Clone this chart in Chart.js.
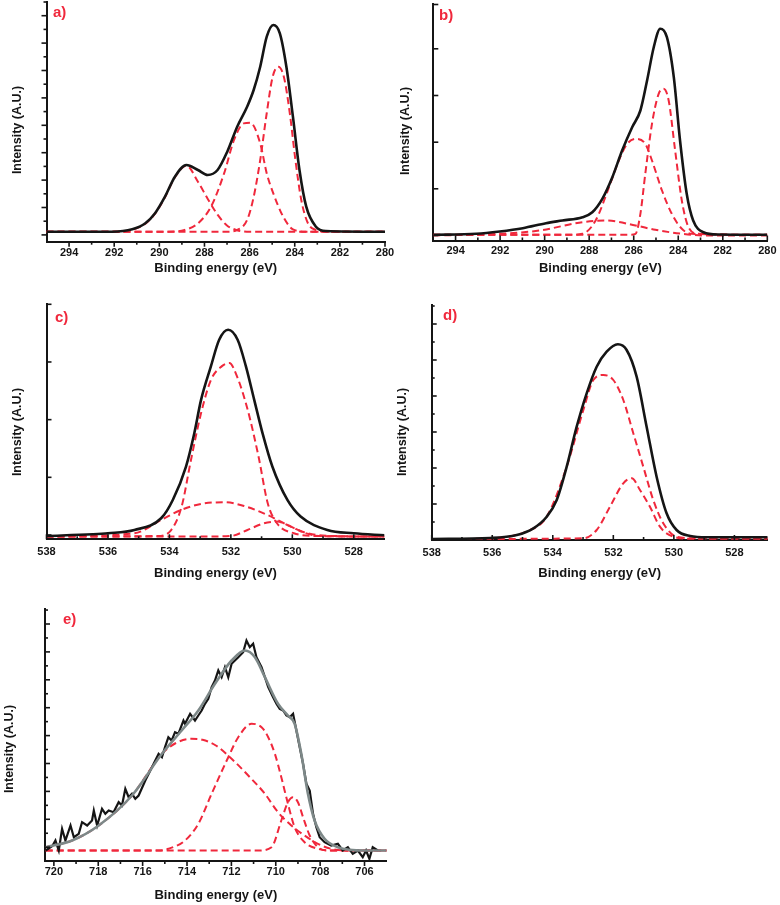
<!DOCTYPE html>
<html lang="en">
<head>
  <meta charset="UTF-8">
  <title>XPS spectra</title>
  <script src="https://cdn.jsdelivr.net/npm/chart.js"></script>
  <style>
    body { margin: 0; background: #fff; }
    #fig { position: relative; width: 780px; height: 905px; overflow: hidden; }
    #fig canvas { position: absolute; }
    .tag { position: absolute; font: bold 15px 'Liberation Sans', Arial, sans-serif; color: #f0283c; line-height: 1; }
    .ytitle { position: absolute; font: bold 12.5px 'Liberation Sans', Arial, sans-serif; color: #151515;
              white-space: nowrap; transform: translate(-50%, -50%) rotate(-90deg); }
  </style>
</head>
<body>
<div id="fig">
  <canvas id="ca" width="400" height="280" style="left:0;top:0"></canvas>
  <canvas id="cb" width="390" height="280" style="left:390px;top:0"></canvas>
  <canvas id="cc" width="390" height="290" style="left:0;top:295px"></canvas>
  <canvas id="cd" width="390" height="290" style="left:390px;top:295px"></canvas>
  <canvas id="ce" width="390" height="305" style="left:0;top:600px"></canvas>

  <div class="tag" style="left:53px;top:4px">a)</div>
  <div class="tag" style="left:439px;top:7px">b)</div>
  <div class="tag" style="left:55px;top:309px">c)</div>
  <div class="tag" style="left:443px;top:307px">d)</div>
  <div class="tag" style="left:63px;top:611px">e)</div>

  <div class="ytitle" style="left:17px;top:130px">Intensity (A.U.)</div>
  <div class="ytitle" style="left:405px;top:131px">Intensity (A.U.)</div>
  <div class="ytitle" style="left:17px;top:432px">Intensity (A.U.)</div>
  <div class="ytitle" style="left:402px;top:432px">Intensity (A.U.)</div>
  <div class="ytitle" style="left:9px;top:749px">Intensity (A.U.)</div>
</div>

<script>
  // ---- a) C 1s ----
  const aTotal = [[295,10],[292.1,10],[291.2,12.4],[290.62,18.4],[290.19,28.4],[289.75,45],[289.31,65],[288.8,76.7],
    [288.29,71.7],[287.86,66.7],[287.42,71.7],[286.99,90],[286.55,115],[286.11,135],[285.82,151.7],[285.53,175],
    [285.24,205],[284.95,216.7],[284.66,208.4],[284.37,175],[284.08,125],[283.79,71.7],[283.49,35],[283.06,15],
    [282.62,10.7],[280,10]];
  const aPeak1 = [[295,10],[287.0,10],[286.55,11.7],[286.11,21.7],[285.82,44.7],[285.53,81.7],[285.24,128.7],
    [284.98,164.7],[284.73,175],[284.48,164.7],[284.22,128.7],[283.97,81.7],[283.71,41.7],[283.42,18.7],
    [283.06,11.7],[282.62,10],[280,10]];
  const aPeak2 = [[295,10],[289.6,10],[288.88,11.7],[288.29,18.3],[287.71,35],[287.13,68.3],[286.69,101.7],
    [286.26,118.3],[285.97,119],[285.53,98.3],[285.24,68.3],[284.95,48.3],[284.51,25],[284.08,12.3],[283.49,10],[280,10]];
  const aPeak3 = [[295,10],[291.8,10],[291.2,12],[290.62,18],[290.19,28],[289.75,44.5],[289.31,64.5],[288.8,76],
    [288.29,60],[287.86,43],[287.42,27],[286.99,16],[286.55,11.5],[286.0,10],[280,10]];

  // ---- b) C 1s ----
  const bTotal = [[295,5.7],[293.07,6.7],[292.02,9],[290.98,12.3],[289.94,17.3],[289.2,20],[288.3,23.3],[287.86,28.3],
    [287.41,41.7],[286.96,63.3],[286.52,90],[286.07,113.3],[285.7,130],[285.4,160],[285.1,193.3],[284.81,211.7],
    [284.51,203.3],[284.2,163.3],[283.92,100],[283.62,46.7],[283.33,20],[282.87,8.3],[282.2,6],[280,5.7]];
  const bPeak1 = [[295,5.7],[286.2,5.7],[285.92,6.7],[285.7,26.7],[285.48,66.7],[285.18,116.7],[284.88,146.7],
    [284.66,151.7],[284.43,140],[284.14,90],[283.84,40],[283.54,13.3],[283.1,6.7],[280,5.7]];
  const bPeak2 = [[295,5.7],[288.9,5.7],[288.3,6.7],[287.71,20],[287.11,53.3],[286.67,80],[286.29,96.7],[285.92,101.7],
    [285.48,96.7],[285.18,80],[284.73,50],[284.29,26.7],[283.84,11.7],[283.39,6.7],[280,5.7]];
  const bPeak3 = [[295,5],[292.02,6.7],[290.24,10],[288.3,18.3],[287.26,20],[285.92,15],[285.03,10.7],[283.84,6.7],
    [282.8,5],[280,5]];

  // ---- c) O 1s ----
  const cTotal = [[538,3.3],[536.5,5],[536,6],[535.14,9.3],[534.27,21],[533.89,39.3],[533.46,72.7],[533.19,106],
    [532.97,139.3],[532.65,172.7],[532.38,199.3],[532.09,209.3],[531.78,199.3],[531.51,172.7],[531.24,139.3],
    [530.97,106],[530.65,72.7],[530.16,39.3],[529.73,22.7],[528.86,9.3],[528,6],[527,4]];
  const cPeak1 = [[538,2.7],[534.4,3.3],[533.95,9],[533.6,33],[533.3,79],[532.97,126],[532.65,159],[532.3,172.7],
    [532.05,176],[531.8,162.7],[531.45,129],[531.1,82.7],[530.8,36],[530.5,16],[529.95,6],[529.2,3.3],[527,2.7]];
  const cPeak2 = [[538,2.7],[535.14,6],[534.27,19.3],[533.62,29.3],[532.97,35.3],[532.22,37],[531.57,33.3],
    [530.81,24.3],[530.16,14.3],[529.51,6],[528.65,3.3],[527,2.7]];
  const cPeak3 = [[538,2.7],[532.97,2.7],[532.0,3.3],[531.46,9.3],[530.92,16],[530.49,17.7],[530.05,12.7],
    [529.62,6.7],[529.08,3.3],[527,2.7]];

  // ---- d) O 1s ----
  const dTotal = [[538,1],[536.07,2],[535.19,5],[534.64,11.7],[534.2,23.3],[533.87,40],[533.54,73.3],[533.21,113.3],
    [532.88,146.7],[532.55,173.3],[532.22,188.3],[531.85,195.7],[531.56,190],[531.23,163.3],[530.9,113.3],
    [530.57,63.3],[530.24,26.7],[529.91,10],[529.46,4],[528.91,2.7],[526.9,2.7]];
  const dPeak1 = [[538,0.7],[536.07,1.7],[534.75,10],[534.2,23.3],[533.54,73.3],[532.99,130],[532.66,160],
    [532.33,165],[532.0,160],[531.67,140],[531.34,106.7],[531.01,73.3],[530.68,40],[530.35,16.7],[529.91,3.3],
    [529.24,1.7],[526.9,1.7]];
  const dPeak2 = [[538,1],[532.99,1.7],[532.55,10],[532.11,33.3],[531.67,56.7],[531.39,61.7],[531.12,50],
    [530.79,33.3],[530.46,13.3],[530.02,3.3],[529.46,1.3],[526.9,1.3]];

  // ---- e) Fe 2p3/2 ----
  const eData = [[720.37,10.5],[720.07,15],[719.93,20.5],[719.78,10.5],[719.63,32.2],[719.48,20.5],[719.25,35.5],
    [719.10,23.8],[718.88,27.2],[718.73,38.8],[718.50,35.5],[718.28,40.5],[718.20,50.5],[718.05,35.5],[717.83,52.2],
    [717.68,47.2],[717.53,50.5],[717.31,48.8],[717.08,58.8],[716.93,55.5],[716.78,72.2],[716.63,63.8],[716.48,67.2],
    [716.33,62.2],[716.18,65.5],[715.88,80.5],[715.58,93.8],[715.43,100.5],[715.28,107.2],[715.13,103.8],
    [714.99,113.8],[714.84,123.8],[714.69,120.5],[714.54,128.8],[714.39,127.2],[714.16,140.5],[714.09,137.2],
    [713.86,147.2],[713.64,140.5],[713.49,145.5],[713.34,150.5],[713.19,157.2],[713.04,162.2],[712.89,173.8],
    [712.74,180.5],[712.59,190.5],[712.44,183.8],[712.29,193.8],[712.14,183.8],[711.99,197.2],[711.84,200.5],
    [711.69,203.8],[711.47,208.8],[711.32,220.5],[711.17,213.8],[711.02,217.2],[710.87,203.8],[710.64,193.8],
    [710.49,183.8],[710.34,173.8],[710.12,163.8],[709.97,157.2],[709.82,152.2],[709.67,150.5],[709.52,145.5],
    [709.37,143.8],[709.22,147.2],[709.07,130.5],[708.92,113.8],[708.77,97.2],[708.62,77.2],[708.47,70.5],
    [708.32,47.2],[708.17,33.8],[708.02,23.8],[707.80,18.8],[707.50,15.5],[707.20,17.2],[706.98,10.5],
    [706.75,13.8],[706.53,7.2],[706.30,10.5],[706.08,3.8],[705.93,10.5],[705.78,2.2],[705.63,13.8],[705.40,10.5]];
  const eFit = [[720.37,13.8],[719.18,20.5],[717.98,35.5],[716.48,65.5],[715.13,107.2],[714.24,130.5],[713.49,150.5],
    [712.74,177.2],[711.99,200.5],[711.39,210.5],[710.94,203.8],[710.49,183.8],[709.9,157.2],[709.45,145.5],
    [709.15,137.2],[708.85,107.2],[708.55,67.2],[708.25,40.5],[707.8,22.2],[707.2,13.8],[706.0,10.5],[705.0,10.5]];
  const ePeak1 = [[720.37,13.8],[719.18,20.5],[717.98,35.5],[716.48,65.5],[715.13,107.2],[714.5,118],[713.8,122.2],
    [713.3,121.2],[712.7,115.5],[711.99,102.2],[711.24,85.5],[710.49,67.2],[709.9,48.8],[709.3,35.5],[708.7,25.5],
    [708.1,17.2],[707.5,12.2],[706.6,10.5],[705.0,10.5]];
  const ePeak2 = [[720.37,10.5],[715.3,10.5],[714.84,12.2],[714.09,20.5],[713.49,37.2],[712.89,67.2],[712.14,103.8],
    [711.69,123.8],[711.09,137.2],[710.64,133.8],[710.34,123.8],[710.04,107.2],[709.75,83.8],[709.45,57.2],
    [709.15,33.8],[708.7,18.8],[708.1,12.2],[707.5,10.5],[705.0,10.5]];
  const ePeak3 = [[720.37,10.5],[710.8,10.5],[710.19,13.8],[709.75,40.5],[709.45,58.8],[709.22,63.8],[709.0,58.8],
    [708.77,43.8],[708.47,25.5],[708.1,13.8],[707.65,10.5],[705.0,10.5]];

  // tick values
  const cLabels = [294, 292, 290, 288, 286, 284, 282, 280];
  const cMinor = [293, 291, 289, 287, 285, 283, 281];
  const oLabels = [538, 536, 534, 532, 530, 528];
  const oMinor = [537, 535, 533, 531, 529];
  const feLabels = [720, 718, 716, 714, 712, 710, 708, 706];
  const feMinor = [719, 717, 715, 713, 711, 709, 707];
  const aYLong = [6.8, 34.2, 61.6, 89, 116.4, 143.8, 171.2, 198.6, 226];
  const aYShort = [20.5, 47.9, 75.3, 102.7, 130.1, 157.5, 184.9, 212.3, 239.7];
  const bYTicks = [5, 51.7, 98.3, 145, 191.7, 236];
  const cYTicks = [4.3, 61.9, 119.5, 177.1, 234.7];
  const dYLong = [0, 36, 72, 108, 144, 180, 216];
  const dYShort = [18, 54, 90, 126, 162, 198, 234];
  const eYLong = [13.8, 41.7, 69.6, 97.5, 125.4, 153.3, 181.2, 209.1, 237];
  const eYShort = [27.75, 55.65, 83.55, 111.45, 139.35, 167.25, 195.15, 223.05, 250.95];

  const INK = '#151515', RED = '#f0283c', GREY = '#7d8888';
  const FONT = "'Liberation Sans', Arial, sans-serif";

  function line(pts, color, width, dash) {
    return {
      data: pts.map(([x, y]) => ({ x, y })),
      showLine: true, pointRadius: 0, borderColor: color, borderWidth: width,
      borderDash: dash || [], cubicInterpolationMode: 'monotone', fill: false
    };
  }
  const dashed = pts => line(pts, RED, 2, [7, 4]);

  // short tick marks drawn through the chart's own scales (len > 0: outward, < 0: inward)
  function tickMarks(marks) {
    return {
      id: 'tickMarks',
      afterDraw(chart) {
        const { ctx, scales: { x, y } } = chart;
        ctx.save();
        ctx.strokeStyle = INK;
        ctx.lineWidth = 1.6;
        (marks.x || []).forEach(([vals, len]) => vals.forEach(v => {
          const px = x.getPixelForValue(v);
          ctx.beginPath(); ctx.moveTo(px, x.top); ctx.lineTo(px, x.top + len); ctx.stroke();
        }));
        (marks.y || []).forEach(([vals, len]) => vals.forEach(v => {
          const py = y.getPixelForValue(v);
          ctx.beginPath(); ctx.moveTo(y.right, py); ctx.lineTo(y.right - len, py); ctx.stroke();
        }));
        ctx.restore();
      }
    };
  }

  function panel(id, p) {
    return new Chart(document.getElementById(id), {
      type: 'scatter',
      data: { datasets: p.datasets },
      options: {
        responsive: false,
        animation: false,
        events: [],
        layout: { autoPadding: false, padding: p.pad },
        plugins: { legend: { display: false }, tooltip: { enabled: false } },
        scales: {
          x: {
            type: 'linear', reverse: true, min: p.xmin, max: p.xmax,
            afterBuildTicks: s => { s.ticks = p.xLabels.map(v => ({ value: v })); },
            afterFit: s => { s.height = p.xh; },
            grid: { display: false, drawTicks: false },
            border: { display: true, color: INK, width: 2 },
            ticks: { autoSkip: false, maxRotation: 0, padding: p.lp, color: INK,
                     font: { family: FONT, size: 11, weight: 'bold' }, callback: v => String(v) },
            title: { display: true, text: 'Binding energy (eV)', color: INK,
                     font: { family: FONT, size: 13, weight: 'bold' }, padding: { top: 0, bottom: p.tp } }
          },
          y: {
            min: 0, max: p.ymax,
            afterFit: s => { s.width = p.yw; },
            grid: { display: false, drawTicks: false },
            border: { display: true, color: INK, width: 2 },
            ticks: { display: false }
          }
        }
      },
      plugins: [tickMarks(p.marks)]
    });
  }

  // first dataset is drawn on top
  panel('ca', {
    datasets: [line(aTotal, INK, 2.6), dashed(aPeak1), dashed(aPeak2), dashed(aPeak3)],
    xmin: 280, xmax: 295, ymax: 239.7, xLabels: cLabels,
    pad: { left: 0, right: 15, top: 2, bottom: 0 }, yw: 46.5, xh: 38.3, lp: 5, tp: 4.2,
    marks: { x: [[cLabels, 5], [cMinor, 3]], y: [[aYLong, 5], [aYShort, 3]] }
  });

  panel('cb', {
    datasets: [line(bTotal, INK, 2.6), dashed(bPeak1), dashed(bPeak2), dashed(bPeak3)],
    xmin: 280, xmax: 295, ymax: 236.5, xLabels: cLabels,
    pad: { left: 0, right: 11, top: 4, bottom: 0 }, yw: 43.3, xh: 39.5, lp: 3.5, tp: 4.2,
    marks: { x: [[cLabels, -5], [cMinor, -3]], y: [[bYTicks, -5]] }
  });

  panel('cc', {
    datasets: [line(cTotal, INK, 2.6), dashed(cPeak1), dashed(cPeak2), dashed(cPeak3)],
    xmin: 527, xmax: 538, ymax: 235, xLabels: oLabels,
    pad: { left: 0, right: 5.5, top: 9, bottom: 0 }, yw: 46.5, xh: 45.7, lp: 5.8, tp: 4.2,
    marks: { x: [[oLabels, -5], [oMinor, -3]], y: [[cYTicks, -5]] }
  });

  panel('cd', {
    datasets: [line(dTotal, INK, 2.6), dashed(dPeak1), dashed(dPeak2)],
    xmin: 526.9, xmax: 538, ymax: 235, xLabels: oLabels,
    pad: { left: 0, right: 12.3, top: 10, bottom: 0 }, yw: 41.7, xh: 45, lp: 6.4, tp: 4.2,
    marks: { x: [[oLabels, -5], [oMinor, -3]], y: [[dYLong, -5], [dYShort, -3]] }
  });

  const eRaw = line(eData, INK, 2.2);
  eRaw.cubicInterpolationMode = 'default';
  eRaw.tension = 0;
  panel('ce', {
    datasets: [line(eFit, GREY, 2.6), eRaw, dashed(ePeak1), dashed(ePeak2), dashed(ePeak3)],
    xmin: 705.0, xmax: 720.4, ymax: 252, xLabels: feLabels,
    pad: { left: 0, right: 3.3, top: 9, bottom: 0 }, yw: 45, xh: 44, lp: 4.5, tp: 2.2,
    marks: { x: [[feLabels, 5], [feMinor, 3]], y: [[eYLong, -5], [eYShort, -3]] }
  });
</script>
</body>
</html>
